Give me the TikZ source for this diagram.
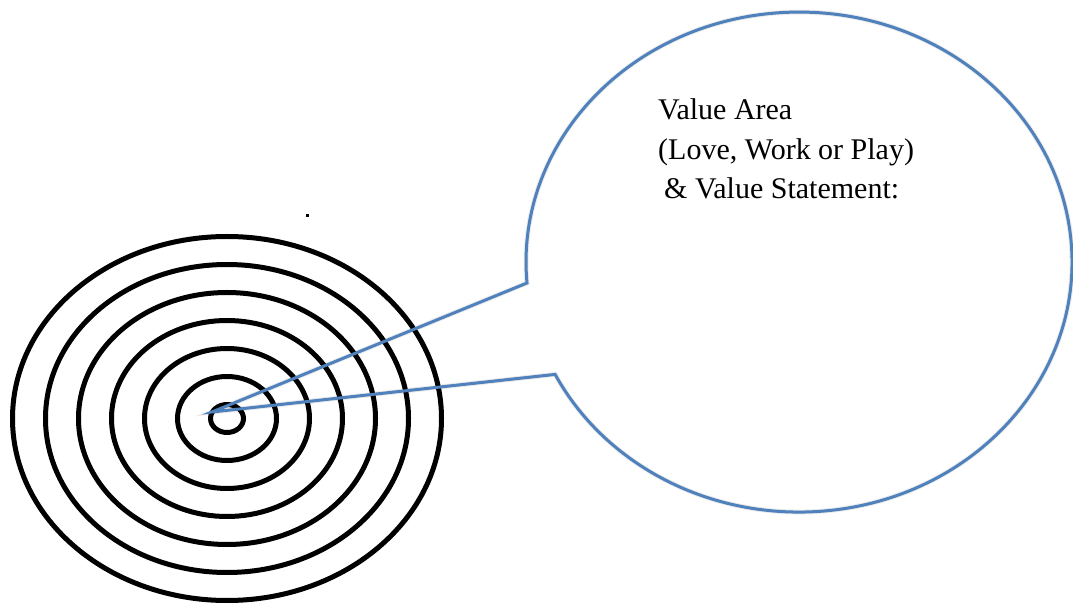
\documentclass[tikz,border=0pt]{standalone}
\usepackage{fontspec}
\usepackage{tikz}
\usetikzlibrary{positioning}

\newfontfamily\bubblefont{Liberation Serif}
\definecolor{CalloutBlue}{RGB}{79,129,189}

\begin{document}
\begin{tikzpicture}[x=1pt, y=1pt]
    \tikzstyle{ring}=[draw=black, line width=5pt]
    \tikzstyle{callout}=[draw=CalloutBlue, line width=3pt, line join=miter]
    \tikzstyle{callout-shadow}=[draw=black, line width=5pt, opacity=0.08]
    \tikzstyle{value-text}=[anchor=base west, align=left, inner sep=0pt, font=\bubblefont\fontsize{30}{39.5}\selectfont]

    \useasboundingbox (0,0) rectangle (1073,605);

    % target rings
    \coordinate (target) at (227,186.5);
    \draw[ring] (target) ellipse [x radius=214.5pt, y radius=182pt];
    \draw[ring] (target) ellipse [x radius=181.5pt, y radius=154pt];
    \draw[ring] (target) ellipse [x radius=148.5pt, y radius=126pt];
    \draw[ring] (target) ellipse [x radius=115.5pt, y radius=98pt];
    \draw[ring] (target) ellipse [x radius=82.5pt, y radius=70pt];
    \draw[ring] (target) ellipse [x radius=49.5pt, y radius=42pt];
    \draw[ring] (target) ellipse [x radius=16.5pt, y radius=14pt];

    % stray mark above the target
    \fill[black] (305.5,388) rectangle (308.5,390.5);

    % speech bubble pointing at the centre
    \coordinate (tip) at (212,193);
    \coordinate (base-a) at (527,322);
    \draw[callout-shadow, shift={(1,-4)}] (base-a) arc[start angle=184.8, end angle=-153.3, x radius=273pt, y radius=250pt] -- (tip) -- cycle;
    \draw[callout-shadow, line width=2.5pt, shift={(1,-3)}] (base-a) arc[start angle=184.8, end angle=-153.3, x radius=273pt, y radius=250pt] -- (tip) -- cycle;
    \draw[callout] (base-a) arc[start angle=184.8, end angle=-153.3, x radius=273pt, y radius=250pt] -- (tip) -- cycle;

    \node[value-text] (value-area) at (658,406) {Value Area\\(Love, Work or Play)\\\hspace*{6pt}\& Value Statement:};
\end{tikzpicture}
\end{document}
